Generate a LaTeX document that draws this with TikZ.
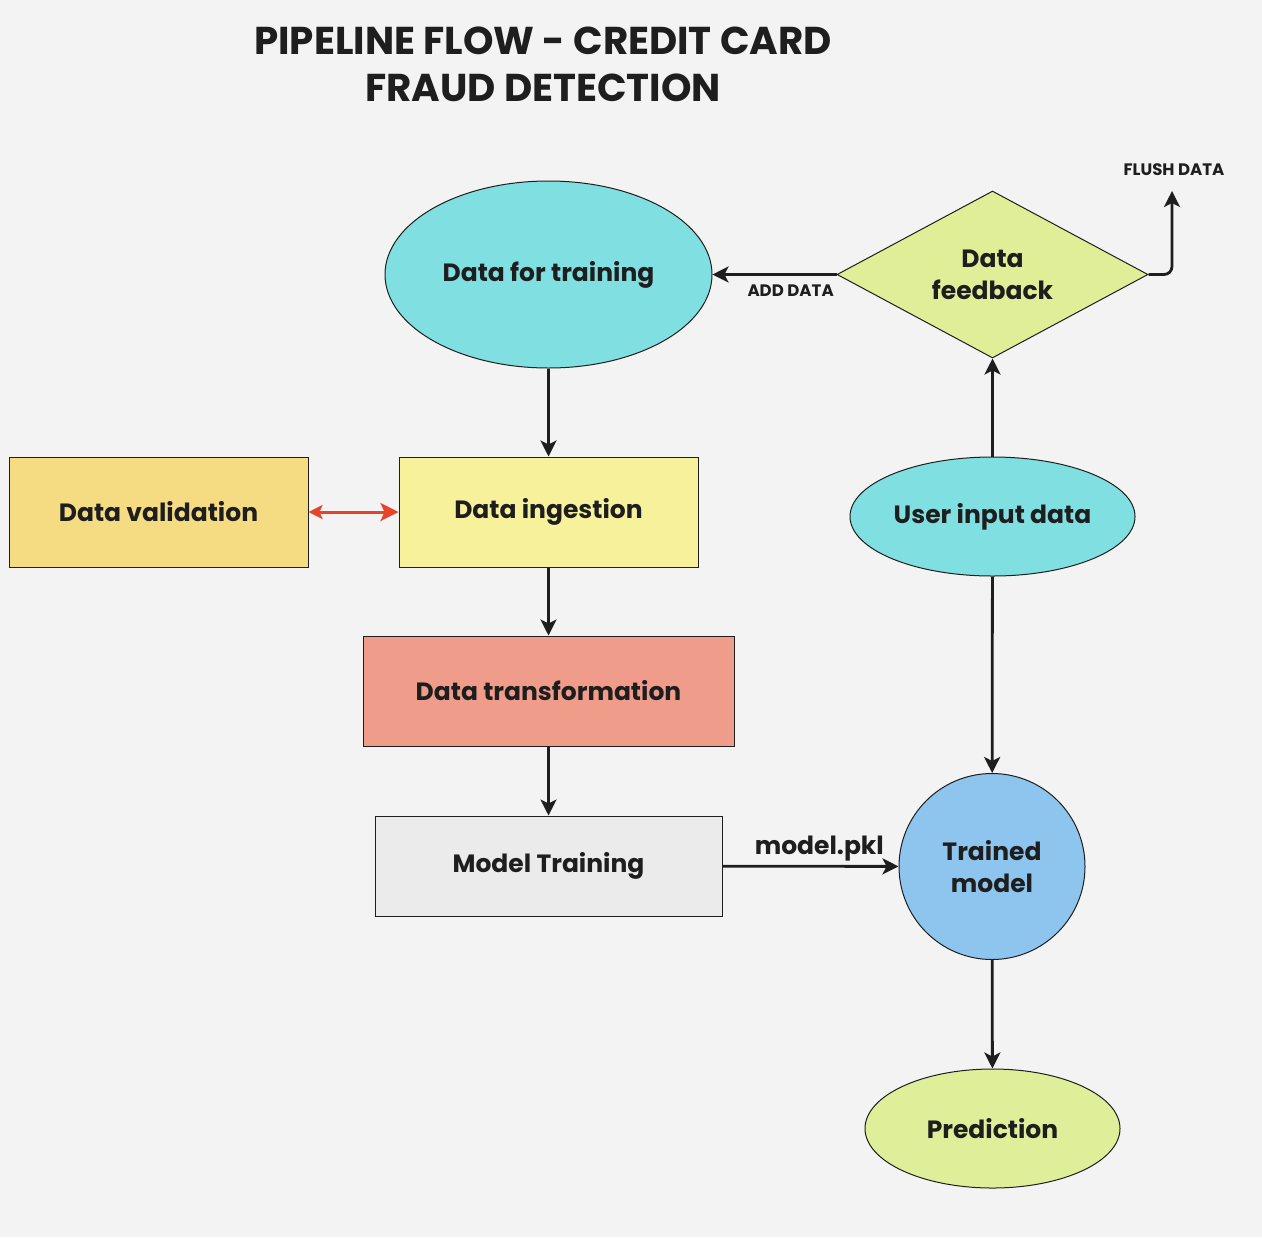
\documentclass[tikz,border=0pt]{standalone}
\usepackage{fontspec}
\setmainfont{Poppins}
\usetikzlibrary{shapes.geometric,arrows.meta}
\definecolor{bgc}{HTML}{F3F3F3}
\definecolor{txt}{HTML}{1E1E1E}
\definecolor{cyanc}{HTML}{80DFE1}
\definecolor{diamc}{HTML}{E0EE98}
\definecolor{valc}{HTML}{F5DC82}
\definecolor{ingc}{HTML}{F8F19C}
\definecolor{trc}{HTML}{F09C8A}
\definecolor{mtc}{HTML}{EBEBEB}
\definecolor{tmc}{HTML}{8EC5EE}
\definecolor{prc}{HTML}{DFEE98}
\definecolor{redc}{HTML}{E8442C}
\begin{document}
\begin{tikzpicture}[x=0.5pt,y=-0.5pt,
  box/.style={draw=txt, line width=0.5pt, inner sep=0pt, text=txt, align=center,
    font=\bfseries\fontsize{12.5}{16}\selectfont},
  lab/.style={text=txt, font=\bfseries\fontsize{12.5}{15}\selectfont},
  small/.style={text=txt, font=\bfseries\fontsize{8.3}{10}\selectfont},
  arr/.style={draw=txt, line width=1.4pt, -{Stealth[length=8pt,width=8pt,inset=2pt]}},
  redarr/.style={draw=redc, line width=1.5pt, {Stealth[length=7pt,width=7pt,inset=1.5pt]}-{Stealth[length=9pt,width=9pt,inset=2pt]}}]
\fill[bgc] (0,0) rectangle (1262,1237);
\useasboundingbox (0,0) rectangle (1262,1237);

\node[text=txt, align=center, font=\bfseries\fontsize{19.4}{23.5}\selectfont] (title) at (543,64)
  {PIPELINE FLOW - CREDIT CARD\\FRAUD DETECTION};

\node[box, ellipse, fill=cyanc, minimum width=163.5pt, minimum height=93.5pt] (dft) at (548.5,274.5) {Data for training};
\node[box, diamond, fill=diamc, minimum width=155.5pt, minimum height=83.5pt, shape aspect=1.86] (fb) at (992.5,274.5) {Data\\feedback};
\node[box, rectangle, fill=valc, minimum width=149.5pt, minimum height=55pt] (val) at (158.5,512) {Data validation};
\node[box, rectangle, fill=ingc, minimum width=149.5pt, minimum height=55pt] (ing) at (548.5,512) {Data ingestion};
\node[box, ellipse, fill=cyanc, minimum width=142.5pt, minimum height=59.5pt] (ui) at (992.5,516.5) {User input data};
\node[box, rectangle, fill=trc, minimum width=185.5pt, minimum height=55pt] (tr) at (548.5,691) {Data transformation};
\node[box, rectangle, fill=mtc, minimum width=173.5pt, minimum height=50pt] (mt) at (548.5,866) {Model Training};
\node[box, circle, fill=tmc, minimum size=93pt] (tm) at (992,866.5) {Trained\\model};
\node[box, ellipse, fill=prc, minimum width=127.5pt, minimum height=59.5pt] (pr) at (992.5,1128.5) {Prediction};

\draw[arr] (dft) -- (ing);
\draw[arr] (ing) -- (tr);
\draw[arr] (tr) -- (mt);
\draw[arr] (mt) -- node[above, lab, pos=0.55, inner sep=2pt] {model.pkl} (tm);
\draw[arr] (ui) -- (fb);
\draw[arr] (ui) -- (tm);
\draw[arr] (tm) -- (pr);
\draw[arr] (fb) -- node[below, small, pos=0.37, inner sep=4.5pt] {ADD DATA} (dft);
\coordinate (fl) at (1172,191);
\draw[arr, rounded corners=4pt] (fb.east) -- (fb.east -| fl) -- (fl);
\node[small] (fltext) at (1174,170) {FLUSH DATA};
\draw[redarr] (val) -- (ing);
\end{tikzpicture}
\end{document}
